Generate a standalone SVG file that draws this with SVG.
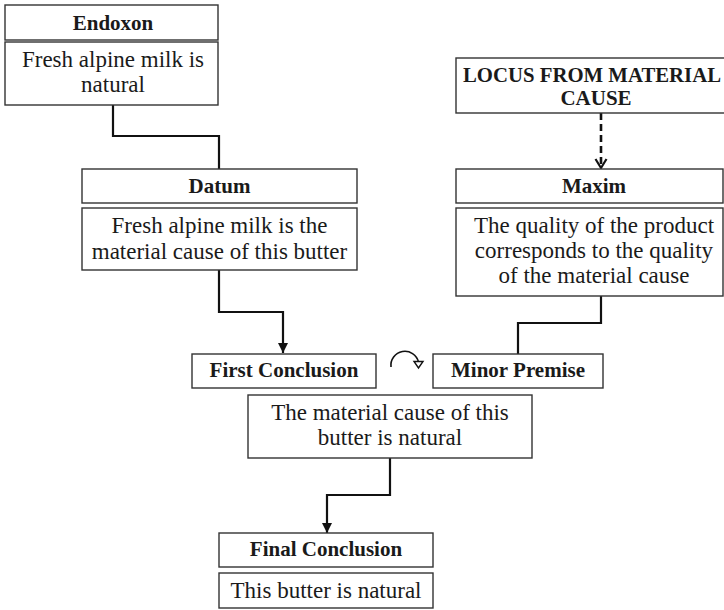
<svg xmlns="http://www.w3.org/2000/svg" width="724" height="610" viewBox="0 0 724 610">
  <style>
    .box { fill: #ffffff; stroke: #333333; stroke-width: 1.4; }
    .head { font-family: "Liberation Serif", "Times New Roman", serif; font-weight: bold; font-size: 21px; fill: #1a1a1a; text-anchor: middle; }
    .body { font-family: "Liberation Serif", "Times New Roman", serif; font-size: 23px; fill: #1a1a1a; text-anchor: middle; }
    .link { fill: none; stroke: #111111; stroke-width: 2.2; }
    .dash { fill: none; stroke: #111111; stroke-width: 2.6; stroke-dasharray: 7 4; }
  </style>
  <defs>
    <marker id="arrow" viewBox="0 0 10 10" refX="10" refY="5" markerWidth="10" markerHeight="10" markerUnits="userSpaceOnUse" orient="auto">
      <path d="M0,0 L10,5 L0,10 Z" fill="#111111"/>
    </marker>
  </defs>

  <!-- connectors -->
  <g id="connectors">
    <path class="link" d="M113,105 V136 H219 V169"/>
    <path class="link" d="M219,270 V312 H283 V353" marker-end="url(#arrow)"/>
    <path class="dash" d="M601,113 V166"/>
    <path d="M595.5,159 L601,168 L606.5,159" fill="none" stroke="#111111" stroke-width="2.2"/>
    <path class="link" d="M601,296 V323 H518 V354"/>
    <path class="link" d="M390,458 V495 H327 V533" marker-end="url(#arrow)"/>
  </g>

  <!-- Endoxon -->
  <g id="endoxon">
    <rect class="box" x="5" y="5" width="213" height="35"/>
    <text class="head" x="113" y="29.5">Endoxon</text>
    <rect class="box" x="5" y="42" width="213" height="63"/>
    <text class="body" x="113" y="67">Fresh alpine milk is</text>
    <text class="body" x="113" y="92">natural</text>
  </g>

  <!-- Locus -->
  <g id="locus">
    <rect class="box" x="456" y="58" width="280" height="55"/>
    <text class="head" x="592" y="82" textLength="258" lengthAdjust="spacingAndGlyphs">LOCUS FROM MATERIAL</text>
    <text class="head" x="596" y="105">CAUSE</text>
  </g>

  <!-- Datum -->
  <g id="datum">
    <rect class="box" x="82" y="169" width="275" height="34"/>
    <text class="head" x="219.5" y="192.5">Datum</text>
    <rect class="box" x="82" y="208" width="275" height="62"/>
    <text class="body" x="219.5" y="233">Fresh alpine milk is the</text>
    <text class="body" x="219.5" y="259">material cause of this butter</text>
  </g>

  <!-- Maxim -->
  <g id="maxim">
    <rect class="box" x="456" y="169" width="267" height="34"/>
    <text class="head" x="594" y="192.5">Maxim</text>
    <rect class="box" x="456" y="208" width="267" height="88"/>
    <text class="body" x="594" y="233">The quality of the product</text>
    <text class="body" x="594" y="258">corresponds to the quality</text>
    <text class="body" x="594" y="283">of the material cause</text>
  </g>

  <!-- First Conclusion -->
  <g id="first-conclusion">
    <rect class="box" x="192" y="354" width="184" height="34"/>
    <text class="head" x="284" y="377">First Conclusion</text>
  </g>

  <!-- rotation symbol between premises -->
  <g id="turn">
    <path d="M391,367 A14,14 0 0 1 418.5,362" fill="none" stroke="#111111" stroke-width="1.6"/>
    <path d="M414,361.5 L423,361.5 L418.5,368 Z" fill="#ffffff" stroke="#111111" stroke-width="1.4"/>
  </g>

  <!-- Minor Premise -->
  <g id="minor-premise">
    <rect class="box" x="433" y="354" width="170" height="34"/>
    <text class="head" x="518" y="377">Minor Premise</text>
  </g>

  <!-- First conclusion content -->
  <g id="first-conclusion-text">
    <rect class="box" x="248" y="395" width="284" height="63"/>
    <text class="body" x="390" y="420">The material cause of this</text>
    <text class="body" x="390" y="445">butter is natural</text>
  </g>

  <!-- Final Conclusion -->
  <g id="final-conclusion">
    <rect class="box" x="219" y="533" width="214" height="34"/>
    <text class="head" x="326" y="556">Final Conclusion</text>
    <rect class="box" x="219" y="573" width="214" height="35"/>
    <text class="body" x="326" y="598">This butter is natural</text>
  </g>
</svg>
